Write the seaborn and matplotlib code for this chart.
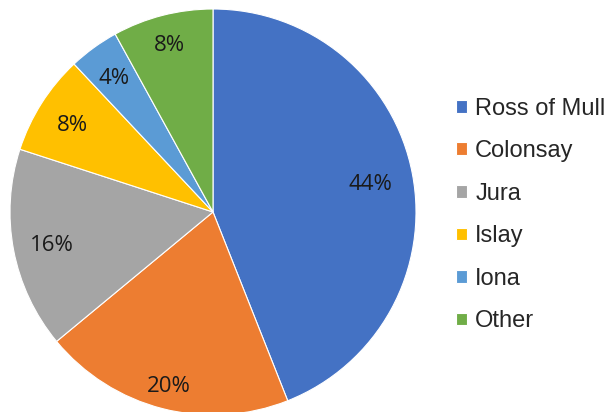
import matplotlib
matplotlib.use("Agg")
import matplotlib.pyplot as plt
import numpy as np
import seaborn as sns

# data
regions = ["Ross of Mull", "Colonsay", "Jura", "Islay", "Iona", "Other"]
shares = [44, 20, 16, 8, 4, 8]
colors = ["#4472C4", "#ED7D31", "#A5A5A5", "#FFC000", "#5B9BD5", "#70AD47"]
# how far out each percentage label sits (fraction of radius)
label_r = [0.79, 0.87, 0.81, 0.82, 0.83, 0.86]

sns.set_style("white")
plt.rcParams["font.family"] = ["Open Sans", "DejaVu Sans"]

fig = plt.figure(figsize=(6.1, 4.12), dpi=100)
ax = fig.add_axes([10 / 610, -3 / 412, 406 / 610, 406 / 412])

pal = sns.color_palette(colors)
wedges, texts, autotexts = ax.pie(
    shares, colors=pal, startangle=90, counterclock=False,
    autopct="%d%%", pctdistance=0.81, radius=1,
    wedgeprops=dict(edgecolor="white", linewidth=0.8),
    textprops=dict(fontsize=16, color="#1a1a1a"),
)
# nudge labels out to where the original puts them (a touch lower too)
for w, t, r in zip(wedges, autotexts, label_r):
    mid = np.deg2rad((w.theta1 + w.theta2) / 2)
    t.set_position((r * np.cos(mid), r * np.sin(mid) - 0.015))

ax.set_xlim(-1, 1)
ax.set_ylim(-1, 1)
ax.set_aspect("equal")
ax.axis("off")

leg = fig.legend(
    wedges, regions, loc="center left", bbox_to_anchor=(435 / 610, 0.478),
    frameon=False, handlelength=0.45, handleheight=0.45, handletextpad=0.35,
    labelspacing=0.87, prop=dict(family="Liberation Sans", size=17),
)

fig.savefig("out.png", dpi=100)
